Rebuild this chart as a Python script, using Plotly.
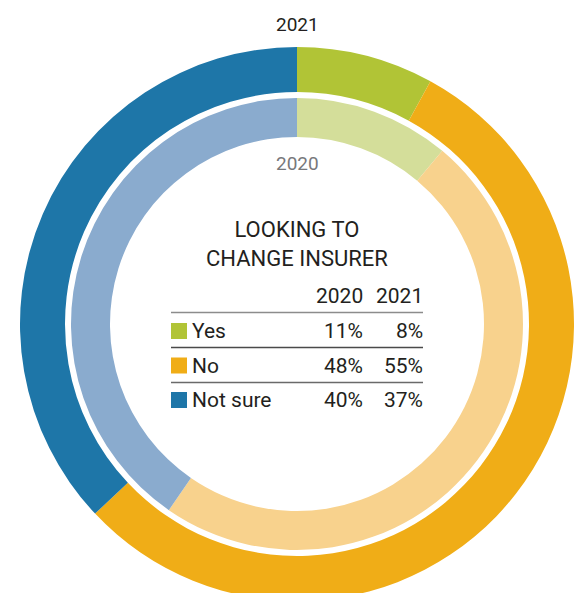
import plotly.graph_objects as go

# Survey answers: "Looking to change insurer?"
categories = ["Yes", "No", "Not sure"]
share_2020 = [11, 48, 40]
share_2021 = [8, 55, 37]
years = ["2020", "2021"]
title_lines = ["LOOKING TO", "CHANGE INSURER"]

colors_2021 = ["#B1C436", "#F0AD17", "#1E76A8"]
colors_2020 = ["#D4DE9A", "#F8D28D", "#8AABCE"]

W, H = 585, 648          # page is taller than the visible window; bottom of ring is cropped
CX, CY = 297, 324        # ring centre in pixels (from top-left)
R_OUT, R_OUT_HOLE = 277, 232
R_IN, R_IN_HOLE = 226, 187
FONT = "Roboto"
INK = "#231F20"


def px_x(x):
    return x / W


def px_y(y):
    return 1 - y / H


def domain(r):
    return dict(x=[px_x(CX - r), px_x(CX + r)], y=[px_y(CY + r), px_y(CY - r)])


fig = go.Figure()

fig.add_trace(go.Pie(
    labels=categories, values=share_2021, name=years[1],
    domain=domain(R_OUT), hole=R_OUT_HOLE / R_OUT,
    sort=False, direction="clockwise", rotation=0,
    marker=dict(colors=colors_2021, line=dict(width=0)),
    textinfo="none", hoverinfo="label+value", showlegend=False,
))
fig.add_trace(go.Pie(
    labels=categories, values=share_2020, name=years[0],
    domain=domain(R_IN), hole=R_IN_HOLE / R_IN,
    sort=False, direction="clockwise", rotation=0,
    marker=dict(colors=colors_2020, line=dict(width=0)),
    textinfo="none", hoverinfo="label+value", showlegend=False,
))

ann = []
shapes = []

# ring labels
ann.append(dict(text=years[1], x=px_x(CX), y=px_y(25), font=dict(size=19, color=INK)))
ann.append(dict(text=years[0], x=px_x(CX), y=px_y(163), font=dict(size=19, color="#77787B")))

# centre title
ann.append(dict(text="<br>".join(title_lines), x=px_x(CX), y=px_y(244),
                font=dict(size=22, color=INK)))

# table
TBL_L, TBL_R = 171, 423
COL_X = [365, 425]
HEAD_Y = 296
ROW_Y = [331, 365.5, 400]
RULE_Y = [312.5, 347.5, 382.5]
RULE_C = ["#8C8C8C", "#4A4A4A", "#6A6A6A"]

for yr, cx in zip(years, COL_X):
    ann.append(dict(text=yr, x=px_x(cx), y=px_y(HEAD_Y), xanchor="right",
                    font=dict(size=21, color=INK)))

for i, cat in enumerate(categories):
    y = ROW_Y[i]
    shapes.append(dict(type="line", xref="paper", yref="paper",
                       x0=px_x(TBL_L), x1=px_x(TBL_R), y0=px_y(RULE_Y[i]), y1=px_y(RULE_Y[i]),
                       line=dict(color=RULE_C[i], width=1.3)))
    shapes.append(dict(type="rect", xref="paper", yref="paper",
                       x0=px_x(171), x1=px_x(187), y0=px_y(y - 8), y1=px_y(y + 8),
                       fillcolor=colors_2021[i], line=dict(width=0)))
    ann.append(dict(text=cat, x=px_x(190), y=px_y(y), xanchor="left",
                    font=dict(size=21, color=INK)))
    for vals, cx in zip([share_2020, share_2021], COL_X):
        ann.append(dict(text=f"{vals[i]}%", x=px_x(cx), y=px_y(y), xanchor="right",
                        font=dict(size=21, color=INK)))

for a in ann:
    a.setdefault("xanchor", "center")
    a.update(xref="paper", yref="paper", yanchor="middle", showarrow=False)
    a["font"]["family"] = FONT

fig.update_layout(
    width=W, height=H,
    margin=dict(l=0, r=0, t=0, b=0),
    paper_bgcolor="white", plot_bgcolor="white",
    annotations=ann, shapes=shapes,
    font=dict(family=FONT, color=INK),
)

fig.write_html("out.html")
